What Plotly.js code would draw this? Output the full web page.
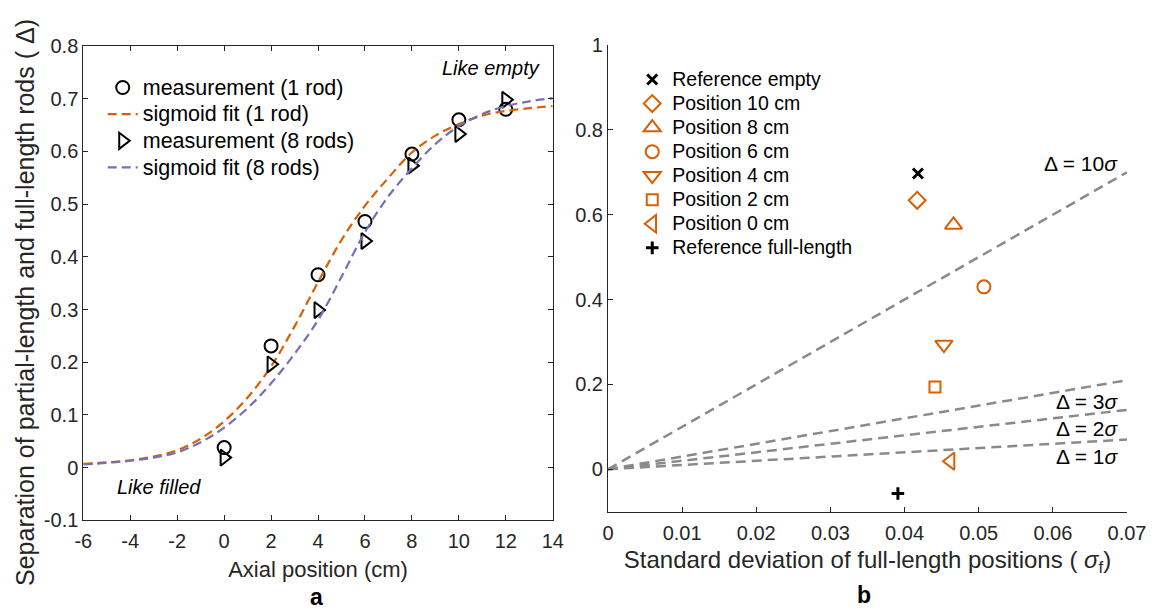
<!DOCTYPE html>
<html>
<head>
<meta charset="utf-8">
<script src="https://cdn.plot.ly/plotly-3.0.1.min.js"></script>
<style>html,body{margin:0;padding:0;background:#fff;}</style>
</head>
<body>
<div id="chart" style="width:1162px;height:612px;"></div>
<script>
// ---------- Panel a data ----------
const axialPos = [0, 2, 4, 6, 8, 10, 12];
const meas1Rod = [0.038, 0.231, 0.366, 0.467, 0.595, 0.660, 0.680];
const meas8Rods = [0.019, 0.196, 0.299, 0.430, 0.573, 0.633, 0.698];
const fitPos = [-6, -5, -4, -3, -2, -1, 0, 1, 2, 3, 4, 5, 6, 7, 8, 9, 10, 11, 12, 13, 14];
const fit1Rod = [0.007, 0.010, 0.014, 0.021, 0.033, 0.055, 0.088, 0.133, 0.192, 0.268, 0.352, 0.432, 0.497, 0.550, 0.598, 0.630, 0.652, 0.668, 0.677, 0.682, 0.686];
const fit8Rods = [0.006, 0.009, 0.013, 0.019, 0.029, 0.048, 0.076, 0.113, 0.160, 0.216, 0.280, 0.362, 0.447, 0.515, 0.568, 0.614, 0.648, 0.671, 0.686, 0.695, 0.701];
const seriesNamesA = ['measurement (1 rod)', 'sigmoid fit (1 rod)', 'measurement (8 rods)', 'sigmoid fit (8 rods)'];
const axialTicks = [-6, -4, -2, 0, 2, 4, 6, 8, 10, 12, 14];
const axialTickText = ['-6', '-4', '-2', '0', '2', '4', '6', '8', '10', '12', '14'];
const sepTicks = [-0.1, 0, 0.1, 0.2, 0.3, 0.4, 0.5, 0.6, 0.7, 0.8];
const sepTickText = ['-0.1', '0', '0.1', '0.2', '0.3', '0.4', '0.5', '0.6', '0.7', '0.8'];

// ---------- Panel b data ----------
const refEmptySigma = [0.0418];
const refEmptyDelta = [0.697];
const positionNames = ['Position 10 cm', 'Position 8 cm', 'Position 6 cm', 'Position 4 cm', 'Position 2 cm', 'Position 0 cm'];
const positionSigma = [0.0417, 0.0466, 0.0507, 0.0453, 0.0441, 0.0462];
const positionDelta = [0.634, 0.576, 0.430, 0.294, 0.194, 0.019];
const refFullSigma = [0.0391];
const refFullDelta = [-0.057];
const sigmaLineX = [0, 0.07];
const line10Y = [0, 0.70];
const line3Y = [0, 0.21];
const line2Y = [0, 0.14];
const line1Y = [0, 0.07];
const lineLabels = ['Δ = 10<i>σ</i>', 'Δ = 3<i>σ</i>', 'Δ = 2<i>σ</i>', 'Δ = 1<i>σ</i>'];
const sigmaTicks = [0, 0.01, 0.02, 0.03, 0.04, 0.05, 0.06, 0.07];
const sigmaTickText = ['0', '0.01', '0.02', '0.03', '0.04', '0.05', '0.06', '0.07'];
const deltaTicks = [0, 0.2, 0.4, 0.6, 0.8, 1];
const deltaTickText = ['0', '0.2', '0.4', '0.6', '0.8', '1'];

const FONT = 'Liberation Sans, Arial, Helvetica, sans-serif';
const AX = '#262626';
const ORANGE = '#D95F02';
const PURPLE = '#7570B3';
const GRAY = '#8a8a8a';

function legA(s) { return '<span style="font-size:21.5px">' + s + '</span>'; }
function legB(s) { return '<span style="font-size:19.5px">' + s + '</span>'; }

const posSymbols = ['diamond-open', 'triangle-up-open', 'circle-open', 'triangle-down-open', 'square-open', 'triangle-left-open'];
const posSizes = [13, 15, 13, 15, 11, 15];

const traces = [
  {x: axialPos, y: meas1Rod, name: legA(seriesNamesA[0]), mode: 'markers', type: 'scatter',
   xaxis: 'x', yaxis: 'y', legend: 'legend',
   marker: {symbol: 'circle-open', size: 13, color: '#000', line: {width: 2, color: '#000'}}},
  {x: fitPos, y: fit1Rod, name: legA(seriesNamesA[1]), mode: 'lines', type: 'scatter',
   xaxis: 'x', yaxis: 'y', legend: 'legend',
   line: {color: ORANGE, width: 2.2, dash: '9px,5px', shape: 'spline'}},
  {x: axialPos, y: meas8Rods, name: legA(seriesNamesA[2]), mode: 'markers', type: 'scatter',
   xaxis: 'x', yaxis: 'y', legend: 'legend',
   marker: {symbol: 'triangle-right-open', size: 14, color: '#000', line: {width: 2, color: '#000'}}},
  {x: fitPos, y: fit8Rods, name: legA(seriesNamesA[3]), mode: 'lines', type: 'scatter',
   xaxis: 'x', yaxis: 'y', legend: 'legend',
   line: {color: PURPLE, width: 2.2, dash: '9px,5px', shape: 'spline'}}
];

[line10Y, line3Y, line2Y, line1Y].forEach(function (ly) {
  traces.push({x: sigmaLineX, y: ly, mode: 'lines', type: 'scatter', showlegend: false,
    xaxis: 'x2', yaxis: 'y2', line: {color: GRAY, width: 2.5, dash: '10px,6px'}});
});

traces.push({x: refEmptySigma, y: refEmptyDelta, name: legB('Reference empty'), mode: 'markers', type: 'scatter',
  xaxis: 'x2', yaxis: 'y2', legend: 'legend2',
  marker: {symbol: 'x-thin', size: 10, color: '#000', line: {width: 3, color: '#000'}}});
positionNames.forEach(function (nm, i) {
  traces.push({x: [positionSigma[i]], y: [positionDelta[i]], name: legB(nm), mode: 'markers', type: 'scatter',
    xaxis: 'x2', yaxis: 'y2', legend: 'legend2',
    marker: {symbol: posSymbols[i], size: posSizes[i], color: ORANGE, line: {width: 2, color: ORANGE}}});
});
traces.push({x: refFullSigma, y: refFullDelta, name: legB('Reference full-length'), mode: 'markers', type: 'scatter',
  xaxis: 'x2', yaxis: 'y2', legend: 'legend2',
  marker: {symbol: 'cross-thin', size: 9, color: '#000', line: {width: 3, color: '#000'}}});

const tickFont = {family: FONT, size: 20, color: AX};

const lineLabelY = [0.720, 0.159, 0.096, 0.029];
const annotations = [
  {xref: 'paper', yref: 'paper', x: 25 / 1162, y: 1 - 303 / 612, xanchor: 'center', yanchor: 'middle',
   showarrow: false, textangle: -90,
   text: 'Separation of partial-length and full-length rods ( Δ)', font: {family: FONT, size: 25, color: AX}},
  {xref: 'x', yref: 'y', x: 13.54, y: 0.758, xanchor: 'right', yanchor: 'middle', showarrow: false,
   text: '<i>Like empty</i>', font: {family: FONT, size: 20, color: '#000'}},
  {xref: 'x', yref: 'y', x: -4.65, y: -0.036, xanchor: 'left', yanchor: 'middle', showarrow: false,
   text: '<i>Like filled</i>', font: {family: FONT, size: 20, color: '#000'}},
  {xref: 'paper', yref: 'paper', x: 316 / 1162, y: 0, xanchor: 'center', yanchor: 'bottom', showarrow: false,
   text: '<b>a</b>', font: {family: FONT, size: 23, color: '#000'}},
  {xref: 'paper', yref: 'paper', x: 864 / 1162, y: 0.004, xanchor: 'center', yanchor: 'bottom', showarrow: false,
   text: '<b>b</b>', font: {family: FONT, size: 23, color: '#000'}}
];
lineLabels.forEach(function (t, i) {
  annotations.push({xref: 'x2', yref: 'y2', x: 0.0690, y: lineLabelY[i], xanchor: 'right', yanchor: 'middle',
    showarrow: false, text: t, font: {family: FONT, size: 21, color: '#000'}});
});

const layout = {
  width: 1162, height: 612,
  margin: {l: 0, r: 0, t: 0, b: 0},
  paper_bgcolor: '#fff', plot_bgcolor: '#fff',
  font: {family: FONT, color: AX},
  hovermode: false,
  xaxis: {
    domain: [0.0717, 0.4757], anchor: 'y',
    range: [-6, 14], tickvals: axialTicks, ticktext: axialTickText,
    ticks: 'inside', ticklen: 5, tickcolor: AX, tickwidth: 1, ticklabelstandoff: 3,
    showline: true, linecolor: AX, linewidth: 1, mirror: 'ticks',
    showgrid: false, zeroline: false, tickfont: tickFont,
    title: {text: 'Axial position (cm)', font: {family: FONT, size: 22, color: AX}, standoff: 10}
  },
  yaxis: {
    domain: [0.1498, 0.9248], anchor: 'x',
    range: [-0.1, 0.8], tickvals: sepTicks, ticktext: sepTickText,
    ticks: 'inside', ticklen: 5, tickcolor: AX, tickwidth: 1,
    showline: true, linecolor: AX, linewidth: 1, mirror: 'ticks',
    showgrid: false, zeroline: false, tickfont: tickFont
  },
  xaxis2: {
    domain: [0.5232, 0.9699], anchor: 'y2',
    range: [0, 0.07], tickvals: sigmaTicks, ticktext: sigmaTickText,
    ticks: 'inside', ticklen: 5, tickcolor: AX, tickwidth: 1, ticklabelstandoff: 3,
    showline: true, linecolor: AX, linewidth: 1,
    showgrid: false, zeroline: false, tickfont: tickFont,
    title: {text: 'Standard deviation of full-length positions ( <i>σ</i><sub>f</sub>)', font: {family: FONT, size: 24, color: AX}, standoff: 8}
  },
  yaxis2: {
    domain: [0.1639, 0.9265], anchor: 'x2',
    range: [-0.1, 1], tickvals: deltaTicks, ticktext: deltaTickText,
    ticks: 'inside', ticklen: 5, tickcolor: AX, tickwidth: 1,
    showline: true, linecolor: AX, linewidth: 1,
    showgrid: false, zeroline: false, tickfont: tickFont
  },
  legend: {
    x: 0.0884, y: 0.887, xanchor: 'left', yanchor: 'top',
    bgcolor: 'rgba(0,0,0,0)', borderwidth: 0,
    font: {family: FONT, size: 18.2, color: '#000'}, tracegroupgap: 0
  },
  legend2: {
    x: 0.5441, y: 0.898, xanchor: 'left', yanchor: 'top',
    bgcolor: 'rgba(0,0,0,0)', borderwidth: 0,
    font: {family: FONT, size: 16.2, color: '#000'}, tracegroupgap: 0
  },
  annotations: annotations
};

Plotly.newPlot('chart', traces, layout, {displayModeBar: false, staticPlot: true});
</script>
</body>
</html>
